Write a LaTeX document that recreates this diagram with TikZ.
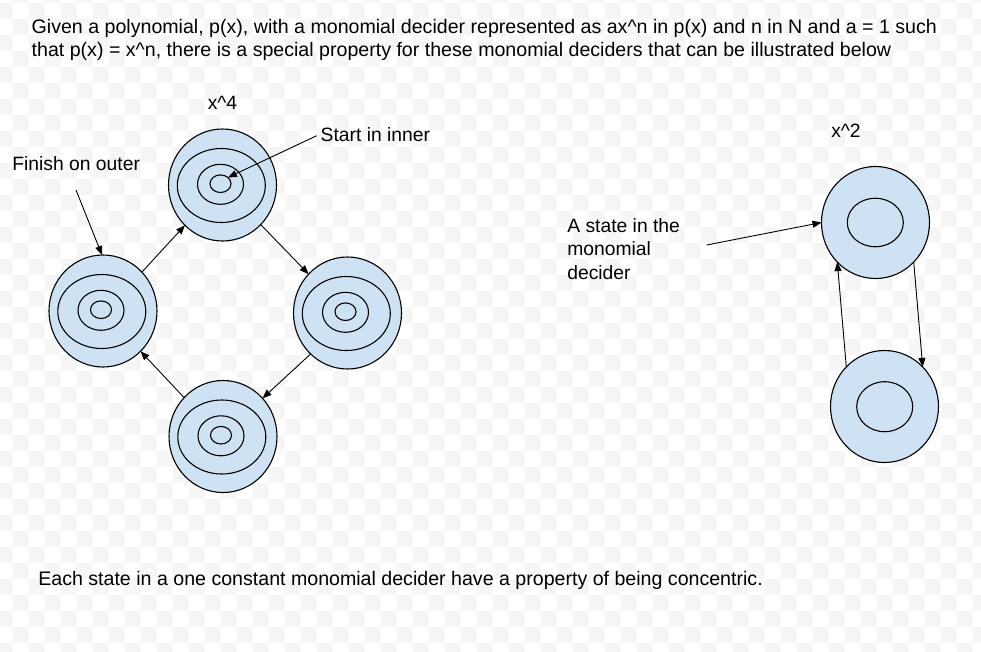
\documentclass[tikz,border=0pt]{standalone}
\usepackage{fontspec}
\setmainfont{Liberation Sans}
\usetikzlibrary{shapes.geometric,arrows.meta,calc}
\definecolor{stfill}{HTML}{CFE2F3}
\definecolor{chk}{RGB}{246,246,246}
\tikzset{
 outerst/.style={ellipse,draw=black,line width=1.1pt,fill=stfill,inner sep=0pt,outer sep=0pt,minimum width=108pt,minimum height=112pt},
 ringst/.style={ellipse,draw=black,line width=1.1pt,inner sep=0pt,outer sep=0pt},
 arr/.style={draw=black,line width=0.9pt,-{Triangle[length=9pt,width=7pt]}},
 lbl/.style={inner sep=0pt,outer sep=0pt,font=\fontsize{19.3pt}{23.3pt}\selectfont,text=black},
 longlbl/.style={lbl,font=\fontsize{19.6pt}{22.7pt}\selectfont},
}
\newcommand\quadring[3]{%
 \node[outerst] (#1) at (#2,#3) {};
 \node[ringst,minimum width=88pt,minimum height=74pt] (#1-2) at ($(#1)+(-1.2,0.5)$) {};
 \node[ringst,minimum width=46pt,minimum height=40pt] (#1-3) at ($(#1)+(-2,-0.7)$) {};
 \node[ringst,minimum width=21pt,minimum height=17.6pt] (#1-4) at ($(#1)+(-2,-1.3)$) {};
}
\begin{document}
\begin{tikzpicture}[x=1pt,y=-1pt]
\useasboundingbox (0,0) rectangle (981,651);
\begin{scope}
\clip (0,0) rectangle (981,651);
\fill[white] (0,0) rectangle (981,651);
\foreach \j in {0,...,42}{
  \pgfmathsetmacro\off{(1-mod(\j,2))*16}
  \foreach \i in {0,32,...,992}{
    \fill[chk] ({\i+\off-3},{\j*16-13}) rectangle ++(16,16);
  }
}
\end{scope}
% title
\node[longlbl,anchor=north west,align=left] (title) at (31.7,19.7)
 {Given a polynomial, p(x), with a monomial decider represented as ax\textasciicircum n in p(x) and n in N and a = 1 such\\
  that p(x) = x\textasciicircum n, there is a special property for these monomial deciders that can be illustrated below};
% x^4 graph
\quadring{T}{222.5}{185}
\quadring{L}{103}{311}
\quadring{R}{347.5}{313}
\quadring{B}{223}{436.5}
\draw[arr] (L.45) -- (T.227);
\draw[arr] (T.314) -- (R.135);
\draw[arr] (R.228) -- (B.44);
\draw[arr] (B.135) -- (L.313);
\node[lbl,anchor=base] (x4) at (222.5,109) {x\textasciicircum 4};
\node[lbl,anchor=base west] (start) at (320.7,141.7) {Start in inner};
\node[lbl,anchor=base west] (finish) at (12.3,170.7) {Finish on outer};
\coordinate (si) at (316.7,135.7);
\draw[arr] (si) -- (T-4.40);
\coordinate (fo) at (76,190);
\draw[arr] (fo) -- (L.91);
% x^2 graph
\node[outerst] (S1) at (875.5,222.5) {};
\node[ringst,minimum width=56pt,minimum height=48.5pt] (S1-2) at (875.3,222.5) {};
\node[outerst] (S2) at (884.5,406.5) {};
\node[ringst,minimum width=56pt,minimum height=50pt] (S2-2) at (884.7,406.7) {};
\draw[arr] (S2.134) -- (S1.226);
\draw[arr] (S1.314) -- (S2.46);
\node[lbl,anchor=base] (x2) at (846,137) {x\textasciicircum 2};
\node[lbl,anchor=north west,align=left] (state) at (567.3,218.6) {A state in the\\monomial\\decider};
\coordinate (as) at (706.7,245);
\draw[arr] (as) -- (S1.180);
% bottom text
\node[longlbl,anchor=base west] (foot) at (38.3,585) {Each state in a one constant monomial decider have a property of being concentric.};
\end{tikzpicture}
\end{document}
